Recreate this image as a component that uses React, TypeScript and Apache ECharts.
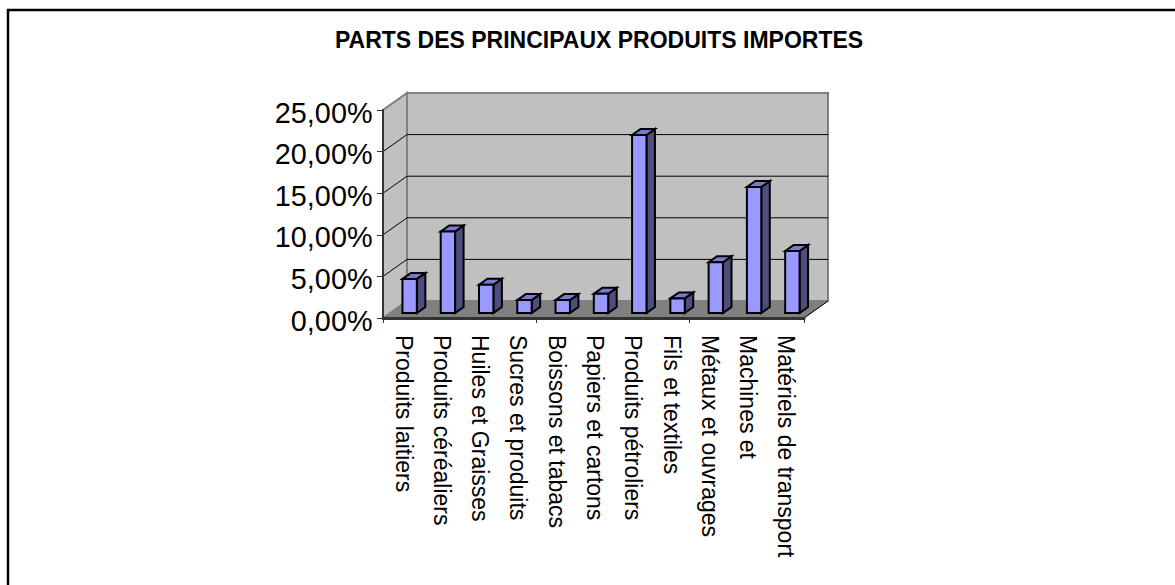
import React, { useEffect, useRef } from "react";
import * as echarts from "echarts";

const titleText = "PARTS DES PRINCIPAUX PRODUITS IMPORTES";
const categories = [
  "Produits laitiers",
  "Produits céréaliers",
  "Huiles et Graisses",
  "Sucres et produits",
  "Boissons et tabacs",
  "Papiers et cartons",
  "Produits pétroliers",
  "Fils et textiles",
  "Métaux et ouvrages",
  "Machines et",
  "Matériels de transport",
];
const shares = [4.1, 9.8, 3.4, 1.55, 1.55, 2.3, 21.4, 1.75, 6.1, 15.15, 7.45];
const gridTicks = [0, 5, 10, 15, 20, 25];

// perspective offsets of the 3D look
const WALL_DX = 24;
const WALL_DY = -17;
const BAR_SHIFT_X = 7.5;
const BAR_SHIFT_Y = -5;
const BAR_DEPTH_X = 8.5;
const BAR_DEPTH_Y = -6;
const BAR_WIDTH_RATIO = 0.376;

const renderBackdrop = (params: any, api: any) => {
  const c = params.coordSys;
  const L = c.x, R = c.x + c.width, T = c.y, B = c.y + c.height;
  const dx = WALL_DX, dy = WALL_DY;
  const wall = { fill: "#C0C0C0", stroke: "#808080", lineWidth: 2 };
  const children: any[] = [
    { type: "polygon", shape: { points: [[L, B], [L, T], [L + dx, T + dy], [L + dx, B + dy]] }, style: wall },
    { type: "polygon", shape: { points: [[L + dx, B + dy], [L + dx, T + dy], [R + dx, T + dy], [R + dx, B + dy]] }, style: wall },
    { type: "polygon", shape: { points: [[L, B], [L + dx, B + dy], [R + dx, B + dy], [R, B]] }, style: { fill: "#808080", stroke: "#808080", lineWidth: 1 } },
  ];
  gridTicks.forEach((t) => {
    if (t === 0 || t === 25) return;
    const y = api.coord([0, t])[1];
    children.push({
      type: "polyline",
      shape: { points: [[L, y], [L + dx, y + dy], [R + dx, y + dy]] },
      style: { fill: "none", stroke: "#000", lineWidth: 1 },
    });
  });
  children.push({
    type: "line",
    shape: { x1: R, y1: B, x2: R + dx, y2: B + dy },
    style: { stroke: "#000", lineWidth: 1 },
  });
  return { type: "group", children };
};

const renderBar = (_params: any, api: any) => {
  const idx = api.value(0);
  const val = api.value(1);
  const top = api.coord([idx, val]);
  const base = api.coord([idx, 0]);
  const w = api.size([1, 0])[0] * BAR_WIDTH_RATIO;
  const l = top[0] + BAR_SHIFT_X - w / 2;
  const r = l + w;
  const t = top[1] + BAR_SHIFT_Y;
  const b = base[1] + BAR_SHIFT_Y;
  const dx = BAR_DEPTH_X, dy = BAR_DEPTH_Y;
  const edge = { stroke: "#000", lineWidth: 2, lineJoin: "miter" };
  return {
    type: "group",
    children: [
      { type: "polygon", shape: { points: [[r, t], [r + dx, t + dy], [r + dx, b + dy], [r, b]] }, style: { fill: "#4D4D80", ...edge } },
      { type: "polygon", shape: { points: [[l, t], [l + dx, t + dy], [r + dx, t + dy], [r, t]] }, style: { fill: "#7A7ACC", ...edge } },
      { type: "polygon", shape: { points: [[l, t], [r, t], [r, b], [l, b]] }, style: { fill: "#9999FF", ...edge } },
    ],
  };
};

// Labels sit slightly off their ticks in the reference, which axisLabel cannot do.
const renderCategoryLabel = (_params: any, api: any) => {
  const i = api.value(0);
  const p = api.coord([i, 0]);
  return {
    type: "text",
    x: p[0] + 1.5,
    y: p[1] + 17,
    rotation: -Math.PI / 2,
    style: {
      text: categories[i],
      fontFamily: "Liberation Sans",
      fontSize: 23,
      fill: "#000",
      align: "left",
      verticalAlign: "middle",
    },
  };
};

const renderValueLabel = (params: any, api: any) => {
  const v = api.value(1);
  const p = api.coord([0, v]);
  return {
    type: "text",
    x: (params.coordSys.x as number) - 10.5,
    y: p[1] + 2.5,
    style: {
      text: v.toFixed(2).replace(".", ",") + "%",
      fontFamily: "Liberation Sans",
      fontSize: 28.8,
      fill: "#000",
      align: "right",
      verticalAlign: "middle",
    },
  };
};

export default function App() {
  const ref = useRef<HTMLDivElement>(null);
  useEffect(() => {
    document.body.style.margin = "0";
    const chart = echarts.init(ref.current!, null, { renderer: "svg" });
    chart.setOption({
      animation: false,
      backgroundColor: "#fff",
      textStyle: { fontFamily: "Liberation Sans" },
      title: {
        text: titleText,
        left: 594,
        top: 23,
        textAlign: "center",
        textStyle: { fontFamily: "Liberation Sans", fontSize: 23, fontWeight: "bold", color: "#000" },
      },
      grid: { left: 383, right: 371, top: 110, bottom: 267 },
      xAxis: {
        type: "category",
        data: categories,
        z: 6,
        axisLine: { lineStyle: { color: "#333", width: 3 } },
        axisTick: { show: true, length: 5, lineStyle: { color: "#333", width: 1 } },
        axisLabel: { show: false },
      },
      yAxis: {
        type: "value",
        min: 0,
        max: 25,
        interval: 5,
        z: 6,
        splitLine: { show: false },
        axisLine: { show: true, lineStyle: { color: "#333", width: 2 } },
        axisTick: { show: true, length: 6, lineStyle: { color: "#333", width: 1 } },
        axisLabel: { show: false },
      },
      series: [
        { type: "custom", z: 1, silent: true, clip: false, renderItem: renderBackdrop, data: [[0, 0]], encode: { x: 0, y: 1 } },
        { type: "custom", z: 3, silent: true, clip: false, renderItem: renderBar, data: shares.map((v, i) => [i, v]), encode: { x: 0, y: 1 } },
        { type: "custom", z: 7, silent: true, clip: false, renderItem: renderCategoryLabel, data: categories.map((_, i) => [i, 0]), encode: { x: 0, y: 1 } },
        { type: "custom", z: 7, silent: true, clip: false, renderItem: renderValueLabel, data: gridTicks.map((t) => [0, t]), encode: { x: 0, y: 1 } },
      ],
      graphic: [
        { type: "polyline", z: 10, shape: { points: [[8, 585], [8, 10], [1175, 10]] }, style: { fill: "none", stroke: "#000", lineWidth: 2.5 } },
      ],
    });
    return () => chart.dispose();
  }, []);
  return <div ref={ref} style={{ position: "absolute", left: 0, top: 0, width: 1175, height: 585 }} />;
}
